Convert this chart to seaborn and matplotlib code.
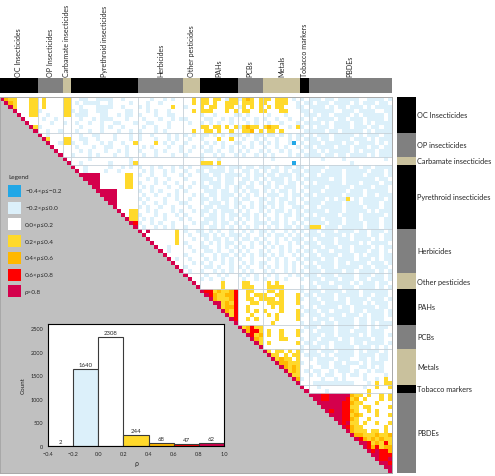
import numpy as np
import matplotlib
matplotlib.use("Agg")
import matplotlib.pyplot as plt
import seaborn as sns
from matplotlib.colors import ListedColormap
from matplotlib.patches import Rectangle

# chemical classes (order of the matrix) and how many analytes each holds
groups = ["OC Insecticides", "OP Insecticides", "Carbamate insecticides",
          "Pyrethroid insecticides", "Herbicides", "Other pesticides", "PAHs",
          "PCBs", "Metals", "Tobacco markers", "PBDEs"]
right_labels = ["OC Insecticides", "OP insecticides", "Carbamate insecticides",
                "Pyrethroid insecticides", "Herbicides", "Other pesticides", "PAHs",
                "PCBs", "Metals", "Tobacco markers", "PBDEs"]
group_sizes = [9, 6, 2, 16, 11, 4, 9, 6, 9, 2, 20]
group_colors = ["#000000", "#808080", "#c9c19d"] * 3 + ["#000000", "#808080"]

# histogram of pairwise correlations
bin_edges = [-0.4, -0.2, 0.0, 0.2, 0.4, 0.6, 0.8, 1.0]
bin_counts = [2, 1640, 2308, 244, 68, 47, 62]
bin_colors = ["#22a7e6", "#dcf0fa", "#ffffff", "#ffd92b", "#ffb800", "#ff0000", "#d4004c"]
legend_labels = ["\u22120.4<\u03c1\u2264\u22120.2", "\u22120.2<\u03c1\u22640.0", "0.0<\u03c1\u22640.2",
                 "0.2<\u03c1\u22640.4", "0.4<\u03c1\u22640.6", "0.6<\u03c1\u22640.8", "\u03c1>0.8"]

# binned rho per row (upper triangle only), one segment per class
# b: -0.4..-0.2  l: -0.2..0  .: 0..0.2  y: 0.2..0.4  o: 0.4..0.6  r: 0.6..0.8  m: >0.8
bin_codes = "bl.yorm"
rho_rows = [
    "oyy...yy|.y....|yy|..ll..llll..l...|...l..l.l..|..y.|yy.yy.lyy|lyoy.y|yy.yyy.l.|l.|lll.ll.lllll..llll.l",
    "oy...yy|.y....|yy|.l.llll..l....l.|..l..l.....|..y.|yy.y..yyy|.yyy.y|y..yyy..l|.l|l.lll.llll.l.lll.ll.",
    "y...yy|.y....|yy|..l...llll..l...|l.l.....y..|l...|y.yy..yy.|ly.y.y|.y.yy...l|l.|llll.l.ll.lll.l.llll",
    "...yy|l.....|yy|l.ll..lll....ll.|..l.l..l...|..y.|yyy...y.y|.yy..y|y...yy...|ll|.lllll..lll.llll..ll",
    "..yy|..l...|yy|.lll...ll..l.ll.|l...l..ll..|....|l..l....l|l.l...|.l...l...|.l|ll.ll.llll.l.lllll.l",
    "...|.l..l.|..|..l..l.lll...l..|.l...l..l.l|l...|.ll..l.l.|.l..l.|l..l..l..|l.|l.llll.ll.lll.llll.l",
    "..|...l..|l.|.l..l..l..ll...l|..ll...l...|.l..|l.l.l..l.|..l.l.|.l..l...l|.l|lll.l.llll.ll.l.llll",
    "y|l.....|..|..l....l.l..l...|.l..l..l...|....|yy.yy.y.y|lyoyy.|yoyy..l.y|l.|l.lll.llll.lll.ll.ll",
    "|..l..l|..|.l..l..l...l..l.|l...l.l....|..y.|.yy.y..y.|.yyo.y|.yy.y....|.l|llll.ll.lllll.l.llll",
    ".l...|..|..l..ll...l...l.|l..l...l.l.|l.l.|ll.l.l.ll|l.l.ll|.ll.l.l.l|l.|l.lll.lllll.l.lll.ll",
    "y...|yy|..ll..l...l...l.|l...l..l.l.|.l..|l...y..y.|.l..l.|l..l..l.l|.l|ll.ll.llll.lll.l.lll",
    "..l|yy|l..l...l.l..l..y|....y.l.l..|l...|.l.l.l..l|l..l.l|.l.l..lb.|l.|lll.llll.ll.llll.l.l",
    "..|..|.l...l..ll...l..|.l.l...l..l|..l.|l.l..l.l.|.l.l..|l..l.l..l|.l|l.llll.lll.lll.ll.ll",
    ".|..|..l.l...l..l.l..|l...l.l...l|.l..|.ll.l..l.|l.l..l|.l..l.l..|l.|ll.l.lllll.l.lll.lll",
    "|..|l...l.l...l..l..|.l..l...l..|l...|l..l.l..l|.l..l.|l.l...l.l|.l|lll.ll.ll.llll.l.lll",
    ".|....l.........l.|...........|....|l...l....|......|..l......|..|...l....l.........l.",
    "|..l......l....ly|...........|....|yyy.y....|......|.......b.|..|..........l.........",
    "..l.....l..l.l.|l..l.l..l.l|.l..|lll.ll.ll|l.ll.l|ll.l.ll.l|l.|llll.lllllll.ll.llll",
    ".l....l..l....|.l.l..l.l..|l..l|l.llll.l.|.ll.l.|l.ll.l.ll|.l|lll.llll.lllll.lll.l",
    "mmmm......yy.|l..l..l...l|.l..|ll.ll.lll|l.l.ll|.ll.lll.l|l.|ll.lllll.llll.llll.l",
    "mmm......yy.|..l.l..l...|l...|lll.l.ll.|.ll.l.|l.lll.l.l|.l|lllll.ll.lllllll.ll.",
    "mm......yy.|l...l.l..l.|..l.|l.lll.ll.|ll.l.l|.l.ll.ll.|l.|l.llllll.lll.llll.ll",
    "m......yy.|.l.l...l..l|.l..|ll.ll.l.l|l.ll..|ll.l.lll.|.l|llll.lllll.llll.lll.",
    "mmmm.....|l..l.l...l.|l...|.lll.ll.l|.l.ll.|l.l.ll.l.|l.|lll.lllll.lll.lllll.",
    "mmm.....|.l..l..l.l.|..l.|l.ll.lll.|l.l.l.|.lll.l.ll|.l|l.llllll.llll.ll.lll",
    "mm.....|l.l...l..l.|.l..|ll.l.ll.l|.ll..l|l.l.ll.l.|l.|llll.l.lly.l.lllll.l",
    "m.....|.l..l.l...l|l...|l.lll.l.l|l..l.l|.ll.l.ll.|.l|lll.llll.lll.llll.ll",
    ".....|l.l..l..l..|.l..|.ll.lll.l|.l.l.l|l.l.l..ll|l.|ll.lllll.llll.lll.ll",
    "..yy|..l.l...l.l|..l.|ll.l.lll.|l.l..l|.l.ll.l.l|.l|llll.lll.lllll.l.lll",
    ".yy|l...l.l..l.|l...|l.ll.l.ll|.ll.l.|l..l.ll.l|l.|l.lllll.llll.lllll.l",
    "yy|.l.l..l...l|.l..|.lll.l.l.|l.l.l.|.l.l.l..l|.l|lll.llll.lll.llll.ll",
    "r|l..l.l..l..|..l.|ll.l.ll.l|.l..ll|l.ll.l.l.|l.|llll.lll.llll.lll.ll",
    "|.l..l.l.l..|l...|l.ll.l.l.|l.l.l.|.l.l.ll.l|.l|yyy.lll.lllll.lll.ll",
    ".m......y.|l..l|l.l.l..l.|.l.l.l|l.l..l.l.|l.|ll.lll.llll.ll.lll.l",
    ".......y.|.l..|ll.l.l.ll|l.l..l|.l.ll.l.l|.l|lll.llll.l.lll.ll.ll",
    "......y.|..l.|.l.ll.l.l|.ll.l.|l..l.l.ll|l.|l.llll.lll.llll.l.ll",
    ".....y.|l...|l.l.l.ll.|l..l.l|.l.l..l.l|.l|ll.lll.lllll.l.llll.",
    "..l...|.l..|ll..l.l.l|.l.l..|l.l.l.l..|l.|lll.lll.ll.llll.l.ll",
    ".l...|..l.|.ll.l..l.|l.l..l|.l..l.l.l|.l|l.lll.llll.lll.ll.l.",
    "....|l...|l..l.ll.l|.l.l.l|l.l.l..l.|l.|ll.llll.lll.l.lll.ll",
    ".l.|.l..|.l.l.l.l.|l..l..|.l.l.l..l|.l|lll.ll.llll.lll.l.ll",
    "..|..l.|l.l..l.l.|.l.l.l|l..l.l.l.|l.|l.llll.ll.llll.lll.l",
    ".|l...|.ll.l..l.|l.l..l|.l.l.l.l.|.l|ll.lll.lllll.ll.lll.",
    "|.l..|l..l.l.l.|.l.l..|l.l..l.l.|l.|lll.llll.ll.llll.l.l",
    "...|.l..l.l..|l.l.l.|.l.l..l.l|.l|ll.lll.llll.lll.ll.l",
    "..|l.l..l...|.l..l.|l..l.l...|l.|lll.lll.lll.ll.lll.l",
    ".|.....y...|.yy...|.y.y.....|..|l.lll.llll.l.lll.ll.",
    "|.....y...|.yyy..|.yyyy....|l.|ll.llll.lll.llll.l.l",
    "rryoyyor|..yy..|.yy.y....|l.|lll.llll.lll.llllll.",
    "royyoor|..y.yy|y..yy...y|.l|l.llll.lllll.ll.lll.",
    "oyyyor|..yy.y|yyy.y...y|l.|ll.lll.ll.llll.lll.l",
    "myoyr|...yy.|.yyyy...y|..|lll.lllll.lll.l.lll.",
    "yoor|..y...|..y.y....|l.|l.lllll.ll.lllll.ll.",
    "oyr|..y.y.|y...y...y|.l|ll.ll.llll.ll.llll.l",
    "yr|...y..|.y.y....y|l.|lll.llll.lll.l.lll.l",
    "r|..y.y.|...y....y|..|l.lll.lllll.ll.lll..",
    "|......|..y......|l.|lll.ll.llll.ll.l.lll",
    "yoryy|.........|.l|ll.lll.llll.ll.l.ll.",
    "orry|.y..y...y|l.|l.llll.lll.lll.lll..",
    "ryo|.y..y...y|..|lll.ll.lllll.l.lll.l",
    "oy|....yy...|l.|ll.llll.ll.llll.ll..",
    "y|.y......y|.l|l.lll.llll.ll.llll.l",
    "|.........|l.|lll.l.lllll.lll.l.l.",
    "y.yy.y.y|l.|ll.lll.llll.l.lll.l.",
    "yy.y.yy|.l|lll.l.lllll.llll.ll.",
    "yoyy.y|..|l.llll.lll..ll.l.ll.",
    "ooyyy|l.|..lll.ll.lll.l.lll..",
    "oyoy|..|l..ll.llll..ll.l.l..",
    "yoy|.l|.ll..l.lll.l..l.ll..",
    "yy|..|l.l.ll..l.ll.l....l.",
    "o|l.|...l..l.l....l..l.y.",
    "|..|.llllllllll...l.y.yy",
    ".|..l..........l..y..y",
    "|....l.........y.....",
    "mmrrmmmmmoyy.y..y.y",
    "mrrmmmmryo.y...y.y",
    "mmmmmrroyy...y...",
    "mmmmrryy.yy....y",
    "rmmrroy..y.y...",
    "mmrryoy...y..y",
    "mrroy..y.....",
    "rmyy.y..y..y",
    "royy.....y.",
    "oyyy.yy.y.",
    "ooyyyoyyo",
    "royoyoyy",
    "mryoyry",
    "roryoo",
    "rmrro",
    "mrrr",
    "rrm",
    "mr",
    "m",
    "",
]

sns.set_style("white")
plt.rcParams["font.family"] = ["Lato", "DejaVu Sans"]
plt.rcParams["patch.force_edgecolor"] = False

starts = np.concatenate([[0], np.cumsum(group_sizes)])
n = int(starts[-1])
grp_of = np.repeat(np.arange(len(group_sizes)), group_sizes)

mat = np.full((n, n), np.nan)
for i, row in enumerate(rho_rows):
    g = grp_of[i]
    spans = [(i + 1, starts[g + 1])] + [(starts[k], starts[k + 1])
                                        for k in range(g + 1, len(group_sizes))]
    for (a, b), seg in zip(spans, row.split("|")):
        seg = seg.ljust(b - a, ".")[: b - a]
        for k, ch in enumerate(seg):
            mat[i, a + k] = bin_codes.index(ch)
    mat[i, i] = len(bin_codes) - 1

W, H = 495, 477
fig = plt.figure(figsize=(W / 100, H / 100), dpi=100)
fig.patch.set_facecolor("white")

# correlation matrix
ax = fig.add_axes([0, 3 / H, 392 / W, 376 / H])
sns.heatmap(mat, mask=np.isnan(mat), cmap=ListedColormap(bin_colors), vmin=-0.5,
            vmax=len(bin_colors) - 0.5, cbar=False, xticklabels=False,
            yticklabels=False, ax=ax)
ax.set_facecolor("#c0c0c0")
for b in starts[1:-1]:
    ax.plot([b, b], [0, b], color="#c5d0d8", lw=0.6)
    ax.plot([b, n], [b, b], color="#c5d0d8", lw=0.6)
for side in ["top", "right", "bottom", "left"]:
    ax.spines[side].set_visible(True)
    ax.spines[side].set_color("#a8a8a8")
    ax.spines[side].set_linewidth(0.7)

# class bar on top
axt = fig.add_axes([0, (H - 94) / H, 392 / W, 15 / H])
axt.bar(starts[:-1], 1, width=group_sizes, align="edge", color=group_colors,
        edgecolor="none", linewidth=0)
axt.set_xlim(0, n)
axt.set_ylim(0, 1)
axt.axis("off")
for s, w, name in zip(starts[:-1], group_sizes, groups):
    axt.text(s + w / 2, 1.15, name, rotation=90, ha="center", va="bottom",
             fontsize=5.1, clip_on=False)

# class bar on the right
axr = fig.add_axes([397 / W, 3 / H, 19 / W, 376 / H])
axr.barh(starts[:-1], 1, height=group_sizes, align="edge", color=group_colors,
         edgecolor="none", linewidth=0)
axr.set_xlim(0, 1)
axr.set_ylim(n, 0)
axr.axis("off")
for s, w, name in zip(starts[:-1], group_sizes, right_labels):
    axr.text(1.06, s + w / 2, name, ha="left", va="center", fontsize=5.3,
             clip_on=False)

# legend
fig.text(8 / W, 1 - 178 / H, "Legend", fontsize=4.6, va="center")
for k, (c, lab) in enumerate(zip(bin_colors, legend_labels)):
    top = 186 + 16.7 * k
    fig.add_artist(Rectangle((8 / W, 1 - (top + 12) / H), 13 / W, 12 / H,
                             transform=fig.transFigure, facecolor=c,
                             edgecolor="none", linewidth=0))
    fig.text(25 / W, 1 - (top + 6) / H, lab, fontsize=4.6, va="center")

# inset histogram
axh = fig.add_axes([48 / W, 30 / H, 176 / W, 122 / H])
axh.set_facecolor("white")
widths = np.diff(bin_edges)
axh.bar(bin_edges[:-1], bin_counts, width=widths, align="edge", color=bin_colors,
        edgecolor="#3a3a3a", linewidth=0.8)
for left, w, cnt in zip(bin_edges[:-1], widths, bin_counts):
    axh.text(left + w / 2, cnt + 40, str(cnt), ha="center", va="bottom", fontsize=4.3)
axh.set_xlim(bin_edges[0], bin_edges[-1])
axh.set_ylim(0, 2590)
axh.set_xticks(bin_edges)
axh.set_yticks([0, 500, 1000, 1500, 2000, 2500])
axh.tick_params(labelsize=4, length=2, width=0.6, pad=1.5, direction="out")
axh.set_xlabel("\u03c1", fontsize=5, labelpad=2)
axh.set_ylabel("Count", fontsize=4.5, labelpad=3)
for side in axh.spines.values():
    side.set_visible(True)
    side.set_color("black")
    side.set_linewidth(0.8)

fig.savefig("out.png", dpi=100)
